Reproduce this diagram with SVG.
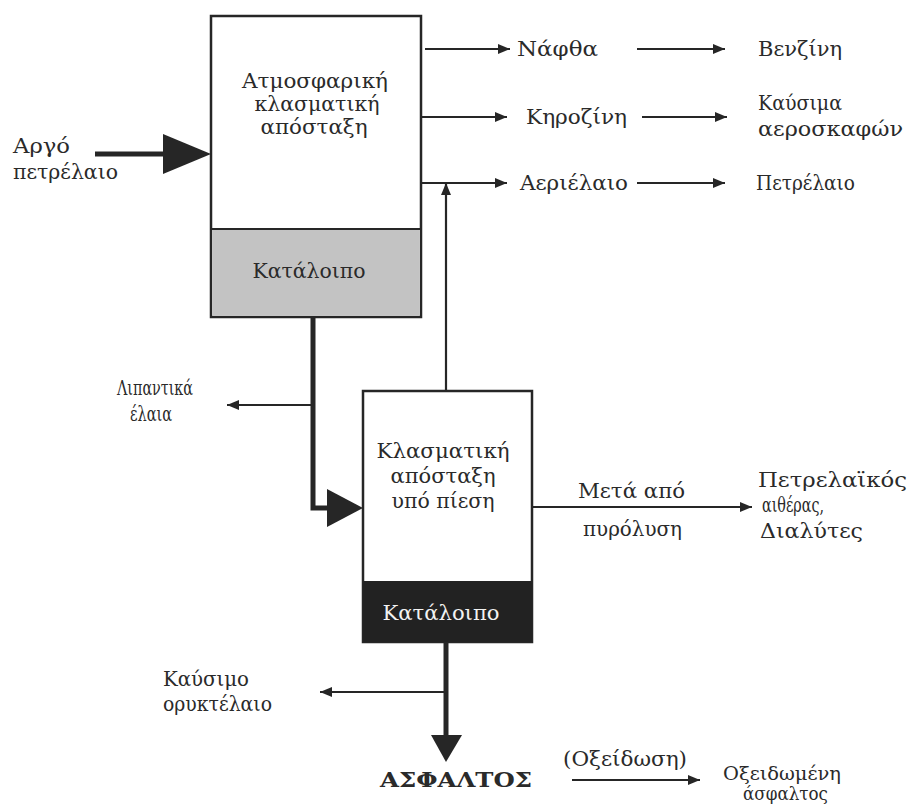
<svg xmlns="http://www.w3.org/2000/svg" width="908" height="806" viewBox="0 0 908 806">
<defs>
<style>
text{font-family:"DejaVu Serif","Liberation Serif",serif;font-size:20px;fill:#2a2a2a}
.w{fill:#f2f2f2}
.b{font-weight:bold}
.s{font-size:18px}
.box{fill:#fff;stroke:#262626;stroke-width:2.5}
.ln{fill:none;stroke:#262626;stroke-width:2.2}
.thk{fill:none;stroke:#262626;stroke-width:5}
.tri{fill:#262626}
</style>
<marker id="ah" viewBox="0 0 12 10" refX="12" refY="5" markerWidth="12" markerHeight="10" markerUnits="userSpaceOnUse" orient="auto">
<path d="M0,0 L12,5 L0,10 Z" fill="#262626"/>
</marker>
</defs>
<rect width="908" height="806" fill="#fff"/>

<g id="atm-column">
<rect class="box" x="211" y="16" width="210" height="301"/>
<rect x="212.25" y="229" width="207.5" height="86.75" fill="#c3c3c3"/>
<line class="ln" x1="211" y1="229" x2="421" y2="229" stroke-width="2.5"/>
<text x="315" y="88" text-anchor="middle" textLength="146" lengthAdjust="spacingAndGlyphs">Ατμοσφαρική</text>
<text x="317" y="111" text-anchor="middle" textLength="125" lengthAdjust="spacingAndGlyphs">κλασματική</text>
<text x="314" y="134" text-anchor="middle" textLength="107" lengthAdjust="spacingAndGlyphs">απόσταξη</text>
<text x="309" y="278" text-anchor="middle" textLength="113" lengthAdjust="spacingAndGlyphs">Κατάλοιπο</text>
</g>

<g id="vac-column">
<rect class="box" x="363" y="391" width="169" height="251"/>
<rect x="363" y="581" width="169" height="61" fill="#222"/>
<text x="443" y="458" text-anchor="middle" textLength="133" lengthAdjust="spacingAndGlyphs">Κλασματική</text>
<text x="443" y="483" text-anchor="middle" textLength="105" lengthAdjust="spacingAndGlyphs">απόσταξη</text>
<text x="443" y="508" text-anchor="middle" textLength="103" lengthAdjust="spacingAndGlyphs">υπό πίεση</text>
<text class="w" x="441" y="620" text-anchor="middle" textLength="117" lengthAdjust="spacingAndGlyphs">Κατάλοιπο</text>
</g>

<g id="crude">
<text x="13" y="153" textLength="57" lengthAdjust="spacingAndGlyphs">Αργό</text>
<text x="13" y="179" textLength="105" lengthAdjust="spacingAndGlyphs">πετρέλαιο</text>
</g>
<g id="naphtha"><text x="517" y="56" textLength="81" lengthAdjust="spacingAndGlyphs">Νάφθα</text></g>
<g id="gasoline"><text x="758" y="56" textLength="84" lengthAdjust="spacingAndGlyphs">Βενζίνη</text></g>
<g id="kerosene"><text x="526" y="124" textLength="101" lengthAdjust="spacingAndGlyphs">Κηροζίνη</text></g>
<g id="jetfuel">
<text x="758" y="110" textLength="84" lengthAdjust="spacingAndGlyphs">Καύσιμα</text>
<text x="758" y="136" textLength="145" lengthAdjust="spacingAndGlyphs">αεροσκαφών</text>
</g>
<g id="gasoil"><text x="520" y="190" textLength="108" lengthAdjust="spacingAndGlyphs">Αεριέλαιο</text></g>
<g id="diesel"><text x="756" y="190" textLength="99" lengthAdjust="spacingAndGlyphs">Πετρέλαιο</text></g>
<g id="lubricants">
<text x="117" y="395" textLength="76" lengthAdjust="spacingAndGlyphs">Λιπαντικά</text>
<text x="130" y="421" textLength="42" lengthAdjust="spacingAndGlyphs">έλαια</text>
</g>
<g id="ether">
<text x="758" y="487" textLength="149" lengthAdjust="spacingAndGlyphs">Πετρελαϊκός</text>
<text x="762" y="512" textLength="62" lengthAdjust="spacingAndGlyphs">αιθέρας,</text>
<text x="760" y="538" textLength="103" lengthAdjust="spacingAndGlyphs">Διαλύτες</text>
</g>
<g id="fueloil">
<text x="163" y="686" textLength="86" lengthAdjust="spacingAndGlyphs">Καύσιμο</text>
<text x="163" y="711" textLength="109" lengthAdjust="spacingAndGlyphs">ορυκτέλαιο</text>
</g>
<g id="asphalt"><text class="b" x="380" y="787" textLength="152" lengthAdjust="spacingAndGlyphs">ΑΣΦΑΛΤΟΣ</text></g>
<g id="oxasphalt">
<text class="s" x="723" y="780" textLength="118" lengthAdjust="spacingAndGlyphs">Οξειδωμένη</text>
<text class="s" x="743" y="800" textLength="85" lengthAdjust="spacingAndGlyphs">άσφαλτος</text>
</g>

<g id="connectors">
<line class="thk" x1="95" y1="154" x2="165" y2="154"/>
<polygon class="tri" points="163,134 211,154 163,174"/>
<line class="ln" x1="425" y1="49" x2="510" y2="49" marker-end="url(#ah)"/>
<line class="ln" x1="637" y1="49" x2="725" y2="49" marker-end="url(#ah)"/>
<line class="ln" x1="421" y1="117" x2="507" y2="117" marker-end="url(#ah)"/>
<line class="ln" x1="642" y1="117" x2="727" y2="117" marker-end="url(#ah)"/>
<line class="ln" x1="421" y1="183" x2="507" y2="183" marker-end="url(#ah)"/>
<line class="ln" x1="637" y1="183" x2="725" y2="183" marker-end="url(#ah)"/>
<line class="ln" x1="446" y1="391" x2="446" y2="183" marker-end="url(#ah)"/>
<polyline class="thk" points="313,317 313,508 330,508"/>
<polygon class="tri" points="327,489 363,508 327,527"/>
<line class="ln" x1="313" y1="405" x2="227" y2="405" marker-end="url(#ah)"/>
<line class="ln" x1="532" y1="507" x2="752" y2="507" marker-end="url(#ah)"/>
<text x="578" y="498" textLength="107" lengthAdjust="spacingAndGlyphs">Μετά από</text>
<text x="583" y="536" textLength="99" lengthAdjust="spacingAndGlyphs">πυρόλυση</text>
<line class="thk" x1="446" y1="642" x2="446" y2="738"/>
<polygon class="tri" points="431,735 462,735 446,762"/>
<line class="ln" x1="446" y1="692" x2="320" y2="692" marker-end="url(#ah)"/>
<line class="ln" x1="572" y1="780" x2="700" y2="780" marker-end="url(#ah)"/>
<text x="563" y="766" textLength="124" lengthAdjust="spacingAndGlyphs">(Οξείδωση)</text>
</g>
</svg>
